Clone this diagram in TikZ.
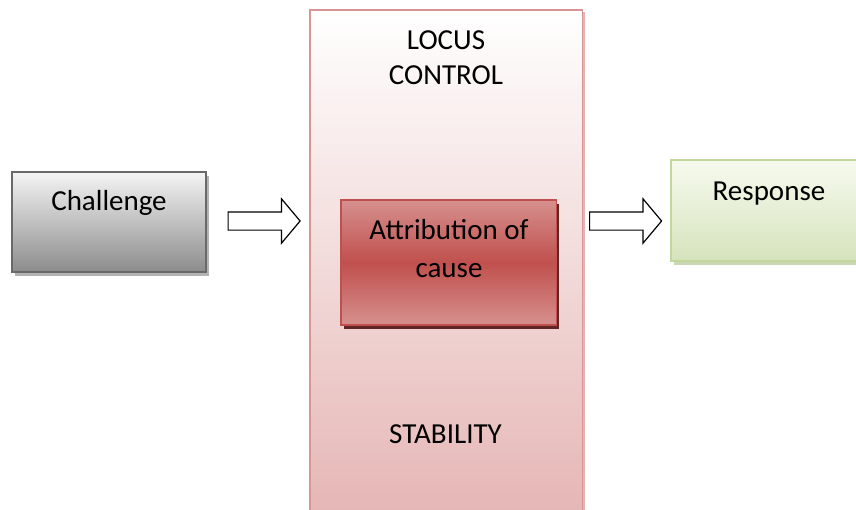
\documentclass[tikz,border=0pt]{standalone}
\usepackage{fontspec}
\setmainfont{Carlito}
\usetikzlibrary{shapes.arrows,shadows}

\definecolor{chaltop}{RGB}{244,244,244}
\definecolor{chalbot}{RGB}{140,140,140}
\definecolor{challine}{RGB}{105,105,105}
\definecolor{locusline}{RGB}{217,149,148}
\definecolor{locusbot}{RGB}{229,182,181}
\definecolor{causeline}{RGB}{192,80,77}
\definecolor{causeedge}{RGB}{214,144,142}
\definecolor{causeshadow}{RGB}{99,37,35}
\definecolor{resptop}{RGB}{246,250,239}
\definecolor{respbot}{RGB}{214,227,188}
\definecolor{respline}{RGB}{195,214,155}

\begin{document}
\begin{tikzpicture}[x=0.75pt,y=0.75pt,yscale=-1,xscale=1,
  every node/.style={font=\fontsize{21.75}{26}\selectfont},
  blockarrow/.style={single arrow,draw=black,fill=white,line width=0.9pt,inner xsep=0pt,inner ysep=6.375pt,
    minimum height=54pt,single arrow head extend=9.75pt,
    single arrow tip angle=100,anchor=tail}]
\useasboundingbox (0,0) rectangle (856,510);

%Shape: Rectangle [id:locus]
\draw (446.25,263) node (locus) [draw=locusline,line width=1.1pt,top color=white,bottom color=locusbot,
  minimum width=204.4pt,minimum height=379.5pt,inner sep=0pt,
  drop shadow={shadow xshift=1.5pt,shadow yshift=-1.5pt,fill=locusline,opacity=0.7}] {};
%Shape: Rectangle [id:challenge]
\draw (109,222) node (chal) [draw=challine,line width=1.1pt,top color=chaltop,bottom color=chalbot,
  minimum width=145.5pt,minimum height=75pt,inner sep=0pt,
  drop shadow={shadow xshift=2.25pt,shadow yshift=-3pt,fill=gray,opacity=0.6}] {};
%Shape: Rectangle [id:response]
\draw (768.5,210.5) node (resp) [draw=respline,line width=1.1pt,top color=resptop,bottom color=respbot,
  minimum width=146.25pt,minimum height=75.75pt,inner sep=0pt,
  drop shadow={shadow xshift=2.25pt,shadow yshift=-3pt,fill=respline!80!gray,opacity=0.7}] {};
%Shape: Rectangle [id:cause]
\draw (448.75,262.5) node (cause) [draw=causeline,line width=1.1pt,top color=causeedge,
  bottom color=causeedge,middle color=causeline,minimum width=161.6pt,minimum height=93.75pt,inner sep=0pt,
  drop shadow={shadow xshift=2.25pt,shadow yshift=-3pt,fill=causeshadow,opacity=1}] {};

%Shape: Right Arrow [id:arrin]
\draw (227.5,221) node (arrin) [blockarrow] {};
%Shape: Right Arrow [id:arrout]
\draw (589,221) node (arrout) [blockarrow] {};

% Text Node
\draw (109,210) node (chaltxt) [anchor=base][inner sep=0pt] {Challenge};
% Text Node
\draw (769,200) node (resptxt) [anchor=base][inner sep=0pt] {Response};
% Text Node
\draw (446,58) node (locustxt) [align=center,inner sep=0pt,font=\fontsize{21.75}{26.25}\selectfont] {LOCUS\\CONTROL};
% Text Node
\draw (449,248.5) node (causetxt) [align=center,inner sep=0pt,font=\fontsize{21.75}{28.5}\selectfont] {Attribution of\\cause};
% Text Node
\draw (445.5,443) node (stabtxt) [anchor=base][inner sep=0pt] {STABILITY};

\end{tikzpicture}
\end{document}
